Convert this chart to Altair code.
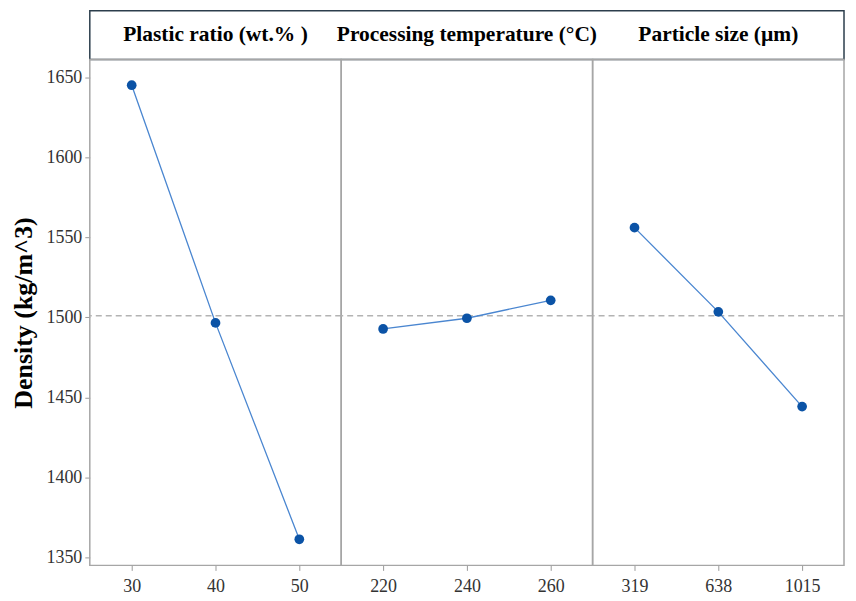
import altair as alt
import pandas as pd

# Main effects plot for means (density)
factors = ["Plastic ratio (wt.% )", "Processing temperature (°C)", "Particle size (µm)"]

plastic_levels = [30, 40, 50]
plastic_density = [1645.0, 1496.5, 1361.3]

temp_levels = [220, 240, 260]
temp_density = [1492.7, 1499.4, 1510.6]

size_levels = [319, 638, 1015]
size_density = [1556.0, 1503.4, 1444.2]

y_ticks = [1350, 1400, 1450, 1500, 1550, 1600, 1650]

df = pd.concat([
    pd.DataFrame({"factor": factors[0], "level": plastic_levels, "density": plastic_density}),
    pd.DataFrame({"factor": factors[1], "level": temp_levels, "density": temp_density}),
    pd.DataFrame({"factor": factors[2], "level": size_levels, "density": size_density}),
], ignore_index=True)
df["grand"] = df["density"].mean()

y_title = "Density (kg/m^3)"
y_scale = alt.Scale(domain=[1345, 1661], nice=False, zero=False)

x_enc = alt.X("level:O", title=None,
              scale=alt.Scale(type="point", padding=0.5),
              axis=alt.Axis(labelAngle=0, labelPadding=7))
y_enc = alt.Y("density:Q", title=y_title, scale=y_scale,
              axis=alt.Axis(values=y_ticks, format="d", labelPadding=3, titlePadding=9))

base = alt.Chart()
mean_rule = base.mark_rule(color="#b3b3b3", strokeDash=[6, 4], strokeWidth=1.5).encode(
    y=alt.Y("mean(grand):Q", title=y_title, scale=y_scale)
)
line = base.mark_line(color="#4a86d0", strokeWidth=1.3).encode(x=x_enc, y=y_enc)
pts = base.mark_circle(color="#0b53a6", size=95, opacity=1).encode(x=x_enc, y=y_enc)

panels = alt.layer(mean_rule, line, pts, data=df).properties(width=252, height=507).facet(
    column=alt.Column("factor:N", sort=factors, header=alt.Header(labels=False, title=None)),
    spacing=0,
    bounds="flush",
).resolve_scale(x="independent")

header = alt.Chart(pd.DataFrame({"factor": factors})).mark_text(
    font="Liberation Serif", fontSize=21.5, fontWeight="bold", color="black"
).encode(
    x=alt.X("factor:N", sort=factors, axis=None,
            scale=alt.Scale(type="band", paddingInner=0, paddingOuter=0)),
    text="factor:N",
).properties(width=756, height=49,
             view=alt.ViewBackground(stroke="#2c3e4c", strokeWidth=1.5))

chart = alt.vconcat(header, panels, spacing=0, bounds="flush").properties(
    padding={"left": 3, "top": 1, "right": 2, "bottom": 2}
).configure_view(
    stroke="#a6a6a6", strokeWidth=1.5
).configure_axis(
    labelFont="Liberation Serif", labelFontSize=18, labelColor="#333333",
    tickColor="#9a9a9a", tickSize=5, domain=False, grid=False,
    titleFont="Liberation Serif", titleFontSize=26, titleFontWeight="bold", titleColor="black"
)

chart.save("out.html", embed_options={"renderer": "svg", "actions": False})
